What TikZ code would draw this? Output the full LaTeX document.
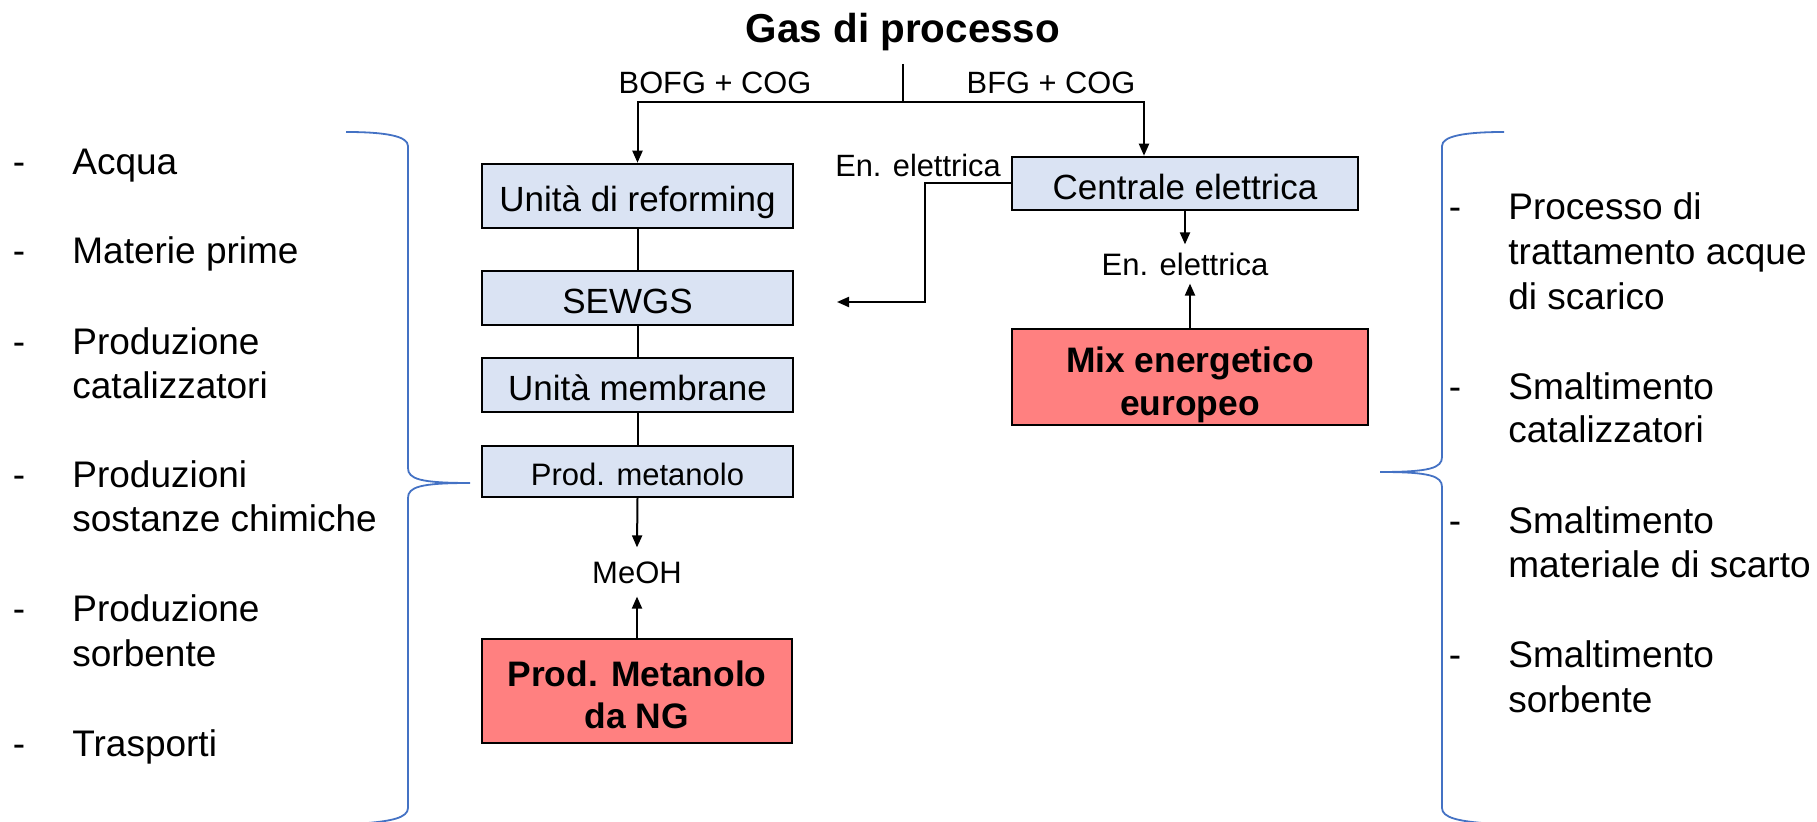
\documentclass[tikz,border=0pt]{standalone}
\usepackage{fontspec}
\setmainfont{Liberation Sans}
\usetikzlibrary{arrows.meta}
\definecolor{boxblue}{HTML}{DAE3F3}
\definecolor{boxred}{HTML}{FF8080}
\definecolor{bracecol}{HTML}{4472C4}
\tikzset{
  procbox/.style={draw=black, line width=1.25pt, fill=boxblue, minimum width=155.5pt, inner sep=0pt,
    font=\fontsize{17.5}{20}\selectfont, text height=15.75pt, text depth=0pt},
  redbox/.style={draw=black, line width=1.25pt, fill=boxred, inner sep=0pt},
  redtxt/.style={font=\bfseries\fontsize{17.7}{20}\selectfont, inner sep=0pt, anchor=base},
  lbl/.style={font=\fontsize{15.4}{18}\selectfont, inner sep=0pt},
  flowlbl/.style={font=\fontsize{15.5}{18}\selectfont, inner xsep=0pt, text height=11.2pt, text depth=0pt},
  conn/.style={draw=black, line width=1pt},
  arr/.style={conn, -{Triangle[length=6pt,width=5pt]}},
  brace/.style={draw=bracecol, line width=0.9pt},
  listtxt/.style={font=\fontsize{18.5}{20}\selectfont, inner sep=0pt, anchor=base west},
  listdash/.style={font=\fontsize{18.5}{20}\selectfont, inner sep=0pt, anchor=base},
}
\begin{document}
\begin{tikzpicture}[x=0.5pt,y=-0.5pt]
\useasboundingbox (0,0) rectangle (1817,822);

% title and gas split
\node[font=\bfseries\fontsize{20.2}{24}\selectfont, inner sep=0pt, anchor=base] (gas) at (903,43) {Gas di processo};
\coordinate (gtop) at (903,64);
\coordinate (split) at (903,102);
\coordinate (rbend) at (1144,102);
\node[lbl, anchor=base] (bofg) at (715,94) {BOFG + COG};
\node[lbl, anchor=base] (bfg) at (1051,94) {BFG + COG};

% process chain
\node[procbox, minimum height=32pt] (reform) at (637.5,196) {Unità di reforming};
\node[procbox, minimum height=27pt] (sewgs) at (637.5,298) {SEWGS\hspace*{10pt}};
\node[procbox, minimum height=27pt] (memb) at (637.5,385) {Unità membrane};
\node[procbox, minimum height=25.5pt, font=\fontsize{15.5}{18}\selectfont, text height=14pt] (prodm) at (637.5,471.5) {Prod. metanolo};
\node[flowlbl, inner ysep=6.5pt] (meoh) at (637,572) {MeOH};
\node[redbox, minimum width=155pt, minimum height=52pt] (ng) at (637,691) {};
\node[redtxt] (ng1) at (637,687) {Prod. Metanolo};
\node[redtxt] (ng2) at (637,729) {da NG};

% power plant
\node[procbox, minimum width=173pt, minimum height=26.5pt] (cent) at (1185,183.5) {Centrale elettrica};
\node[lbl, anchor=base] (enel1) at (918,177) {En. elettrica};
\coordinate (elbow) at (925,302);
\coordinate (sewin) at (837,302);
\node[flowlbl, inner ysep=4pt] (enel2) at (1185,264) {En. elettrica};
\node[redbox, minimum width=178pt, minimum height=48pt] (mix) at (1190,377) {};
\node[redtxt] (mix1) at (1190,373) {Mix energetico};
\node[redtxt] (mix2) at (1190,416) {europeo};

% connectors
\draw[conn] (gtop) -- (split);
\draw[arr] (split) -| (reform.north);
\draw[arr] (split) -- (rbend) -- (rbend |- cent.north);
\draw[conn] (reform.south) -- (sewgs.north);
\draw[conn] (sewgs.south) -- (memb.north);
\draw[conn] (memb.south) -- (prodm.north);
\draw[arr] (prodm.south) -- (meoh.north);
\draw[arr] (ng.north) -- (meoh.south);
\draw[arr] (cent.west) -| (elbow) -- (sewin);
\draw[arr] (cent.south) -- (enel2.north);
\draw[arr] (mix.north) -- (mix.north |- enel2.south);

% braces
\draw[brace] (346,132) .. controls (385,132) and (408,136) .. (408,146) -- (408,468)
  .. controls (408,479) and (420,483) .. (470,483)
  .. controls (420,483) and (408,487) .. (408,498) -- (408,808)
  .. controls (408,818) and (390,821) .. (368,823);
\draw[brace] (1504,132) .. controls (1465,132) and (1442,136) .. (1442,146) -- (1442,457)
  .. controls (1442,468) and (1430,472) .. (1380,472)
  .. controls (1430,472) and (1442,476) .. (1442,487) -- (1442,808)
  .. controls (1442,818) and (1460,821) .. (1482,823);

% left list
\node[listdash] (ld1) at (19,175) {-};
\node[listtxt] (l1) at (72,175) {Acqua};
\node[listdash] (ld2) at (19,264) {-};
\node[listtxt] (l2) at (72,264) {Materie prime};
\node[listdash] (ld3) at (19,355) {-};
\node[listtxt] (l3) at (72,355) {Produzione};
\node[listtxt] (l3b) at (72,399) {catalizzatori};
\node[listdash] (ld4) at (19,488) {-};
\node[listtxt] (l4) at (72,488) {Produzioni};
\node[listtxt] (l4b) at (72,532) {sostanze chimiche};
\node[listdash] (ld5) at (19,622) {-};
\node[listtxt] (l5) at (72,622) {Produzione};
\node[listtxt] (l5b) at (72,667) {sorbente};
\node[listdash] (ld6) at (19,757) {-};
\node[listtxt] (l6) at (72,757) {Trasporti};

% right list
\node[listdash] (rd1) at (1455,220) {-};
\node[listtxt] (r1) at (1508,220) {Processo di};
\node[listtxt] (r1b) at (1508,265) {trattamento acque};
\node[listtxt] (r1c) at (1508,310) {di scarico};
\node[listdash] (rd2) at (1455,400) {-};
\node[listtxt] (r2) at (1508,400) {Smaltimento};
\node[listtxt] (r2b) at (1508,443) {catalizzatori};
\node[listdash] (rd3) at (1455,534) {-};
\node[listtxt] (r3) at (1508,534) {Smaltimento};
\node[listtxt] (r3b) at (1508,578) {materiale di scarto};
\node[listdash] (rd4) at (1455,668) {-};
\node[listtxt] (r4) at (1508,668) {Smaltimento};
\node[listtxt] (r4b) at (1508,713) {sorbente};
\end{tikzpicture}
\end{document}
